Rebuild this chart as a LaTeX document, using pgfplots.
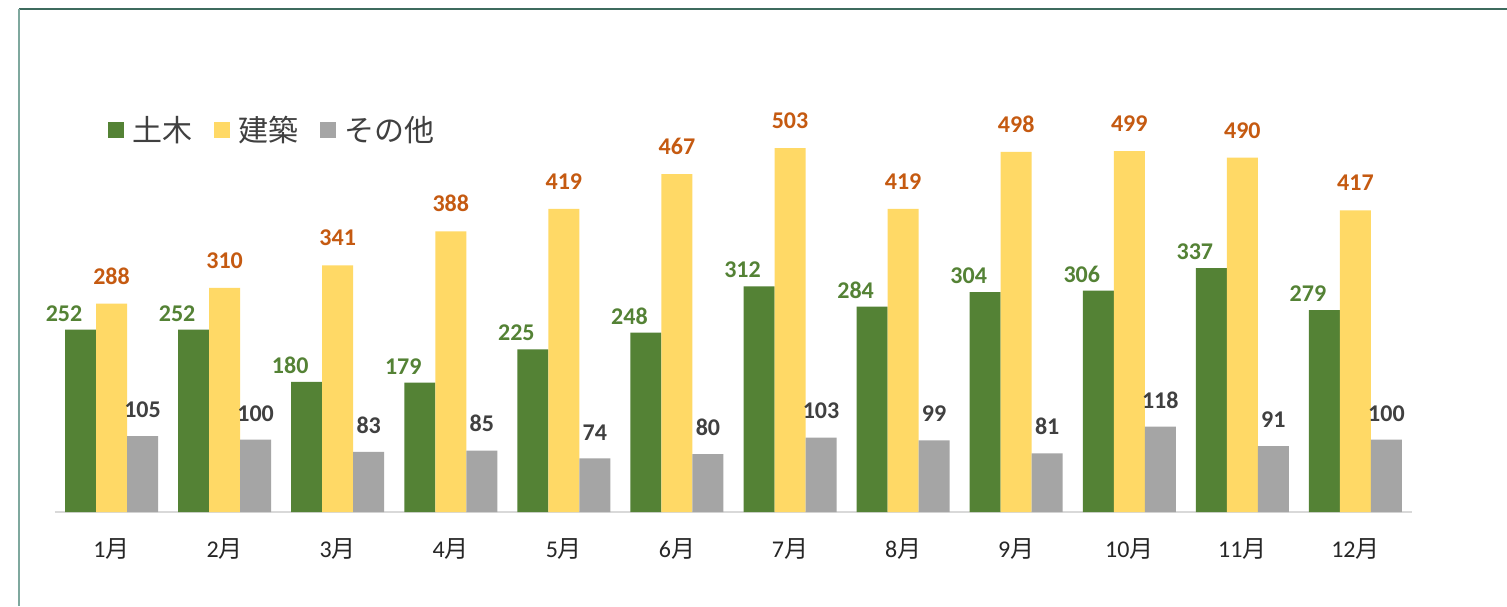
\documentclass[border=0pt]{standalone}
\usepackage{fontspec}
\setmainfont{Carlito}
\newfontfamily\cjk{Noto Sans CJK JP}
\usepackage{pgfplots}
\pgfplotsset{compat=1.18}
\definecolor{cgreen}{HTML}{548235}
\definecolor{cyellow}{HTML}{FFD966}
\definecolor{cgray}{HTML}{A5A5A5}
\definecolor{lorange}{HTML}{C55A11}
\definecolor{ldark}{HTML}{404040}
\definecolor{axgray}{HTML}{D9D9D9}
\definecolor{frametop}{HTML}{3D6B5E}
\definecolor{frameleft}{HTML}{7FA89E}
\definecolor{legtext}{HTML}{404040}
\begin{document}
\begin{tikzpicture}
\useasboundingbox (0,0) rectangle (753.5pt,303pt);
\fill[white] (0,0) rectangle (753.5pt,303pt);
\draw[frametop, line width=0.8pt] (9.5pt,298.5pt) -- (753.5pt,298.5pt);
\draw[frameleft, line width=0.8pt] (9.5pt,298.5pt) -- (9.5pt,0pt);
\begin{axis}[
  at={(27.5pt,47pt)}, anchor=south west,
  scale only axis, width=678.5pt, height=217pt,
  xmin=-0.5, xmax=11.5, ymin=0, ymax=600,
  ybar=0pt, bar width=15.5pt,
  hide y axis,
  axis x line=bottom,
  x axis line style={draw=axgray, line width=1pt, -},
  xtick={0,...,11},
  xticklabels={1{\cjk 月},2{\cjk 月},3{\cjk 月},4{\cjk 月},5{\cjk 月},6{\cjk 月},7{\cjk 月},8{\cjk 月},9{\cjk 月},10{\cjk 月},11{\cjk 月},12{\cjk 月}},
  xtick style={draw=none},
  major tick length=0pt,
  xticklabel style={font=\fontsize{12}{14}\selectfont, text=black!85, anchor=center, yshift=-18.5pt},
  /pgf/number format/assume math mode=true,
  nodes near coords,
  nodes near coords style={font=\bfseries\fontsize{12}{14}\selectfont, inner sep=0pt, anchor=south},
  legend style={at={(0.039,0.88)}, anchor=west, draw=none, fill=none,
    font=\cjk\fontsize{15}{17}\selectfont, text=legtext, inner sep=0pt,
    /tikz/every even column/.append style={column sep=9pt}},
  legend columns=3,
  legend image code/.code={\fill[#1, draw=none] (0pt,-4pt) rectangle (8pt,4pt); \path (10pt,0pt);},
]
\addplot[fill=cgreen, draw=none, every node near coord/.append style={text=cgreen, xshift=-8.25pt, yshift=4pt}]
  coordinates {(0,252) (1,252) (2,180) (3,179) (4,225) (5,248) (6,312) (7,284) (8,304) (9,306) (10,337) (11,279)};
\addplot[fill=cyellow, draw=none, every node near coord/.append style={text=lorange, yshift=9.5pt}]
  coordinates {(0,288) (1,310) (2,341) (3,388) (4,419) (5,467) (6,503) (7,419) (8,498) (9,499) (10,490) (11,417)};
\addplot[fill=cgray, draw=none, every node near coord/.append style={text=ldark, yshift=9pt}]
  coordinates {(0,105) (1,100) (2,83) (3,85) (4,74) (5,80) (6,103) (7,99) (8,81) (9,118) (10,91) (11,100)};
\legend{土木,建築,その他}
\end{axis}
\end{tikzpicture}
\end{document}
